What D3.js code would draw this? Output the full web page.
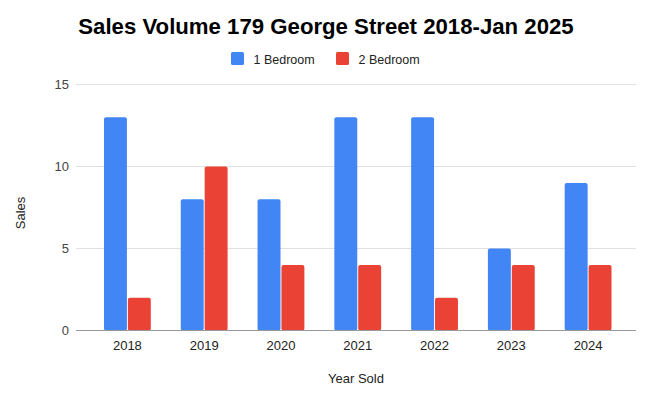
<!DOCTYPE html>
<html>
<head>
<meta charset="utf-8">
<script src="https://cdn.jsdelivr.net/npm/d3@7"></script>
<style>
  body { margin: 0; background: #fff; }
  svg { display: block; font-family: Arial, "Liberation Sans", sans-serif; }
</style>
</head>
<body>
<svg id="chart"></svg>
<script>
const years = ['2018', '2019', '2020', '2021', '2022', '2023', '2024'];
const oneBedroom = [13, 8, 8, 13, 13, 5, 9];
const twoBedroom = [2, 10, 4, 4, 2, 4, 4];
const seriesNames = ['1 Bedroom', '2 Bedroom'];
const seriesColors = ['#4285F4', '#EA4335'];
const yTicks = [0, 5, 10, 15];

const width = 648;
const height = 398;

const svg = d3.select('#chart')
  .attr('width', width)
  .attr('height', height)
  .attr('viewBox', `0 0 ${width} ${height}`);

// Plot area
const plotLeft = 76;
const plotRight = 636;

const xScale = d3.scaleBand()
  .domain(years)
  .range([89, 626.5])
  .paddingInner(0.39)
  .paddingOuter(0.195);

const subScale = d3.scaleBand()
  .domain(seriesNames)
  .range([0, xScale.bandwidth()])
  .paddingInner(0.04);

const yScale = d3.scaleLinear()
  .domain([0, 15])
  .range([330.5, 84.5]);

// Gridlines
svg.append('g')
  .selectAll('line')
  .data(yTicks.filter((t) => t !== 0))
  .join('line')
  .attr('x1', plotLeft)
  .attr('x2', plotRight)
  .attr('y1', (d) => yScale(d))
  .attr('y2', (d) => yScale(d))
  .attr('stroke', '#e0e0e0')
  .attr('stroke-width', 1);

// Y tick labels
svg.append('g')
  .selectAll('text')
  .data(yTicks)
  .join('text')
  .attr('x', 69)
  .attr('y', (d) => yScale(d) + 4.5)
  .attr('text-anchor', 'end')
  .attr('font-size', 13)
  .attr('fill', '#444')
  .text((d) => d);

// Bars
const rows = years.map((y, i) => ({ year: y, values: [oneBedroom[i], twoBedroom[i]] }));

const groups = svg.append('g')
  .selectAll('g')
  .data(rows)
  .join('g')
  .attr('transform', (d) => `translate(${xScale(d.year)},0)`);

groups.selectAll('rect')
  .data((d) => d.values.map((v, k) => ({ name: seriesNames[k], value: v, color: seriesColors[k] })))
  .join('rect')
  .attr('x', (d) => subScale(d.name))
  .attr('y', (d) => yScale(d.value))
  .attr('width', subScale.bandwidth())
  .attr('height', (d) => yScale(0) - yScale(d.value))
  .attr('rx', 2)
  .attr('fill', (d) => d.color);

// Baseline
svg.append('line')
  .attr('x1', plotLeft)
  .attr('x2', plotRight)
  .attr('y1', yScale(0))
  .attr('y2', yScale(0))
  .attr('stroke', '#999')
  .attr('stroke-width', 1.2);

// X axis labels
svg.append('g')
  .selectAll('text')
  .data(years)
  .join('text')
  .attr('x', (d) => xScale(d) + xScale.bandwidth() / 2)
  .attr('y', 350)
  .attr('text-anchor', 'middle')
  .attr('font-size', 13)
  .attr('fill', '#222')
  .text((d) => d);

// Axis titles
svg.append('text')
  .attr('x', 356)
  .attr('y', 383)
  .attr('text-anchor', 'middle')
  .attr('font-size', 13)
  .attr('fill', '#222')
  .text('Year Sold');

svg.append('text')
  .attr('transform', 'translate(25,213) rotate(-90)')
  .attr('text-anchor', 'middle')
  .attr('font-size', 13)
  .attr('fill', '#222')
  .text('Sales');

// Title
svg.append('text')
  .attr('x', 326)
  .attr('y', 34)
  .attr('text-anchor', 'middle')
  .attr('font-size', 22.2)
  .attr('font-weight', 'bold')
  .attr('fill', '#000')
  .text('Sales Volume 179 George Street 2018-Jan 2025');

// Legend
const legendX = [231, 336];
const legend = svg.append('g')
  .selectAll('g')
  .data(seriesNames)
  .join('g')
  .attr('transform', (d, i) => `translate(${legendX[i]},52)`);

legend.append('rect')
  .attr('width', 13)
  .attr('height', 13)
  .attr('rx', 1.5)
  .attr('fill', (d, i) => seriesColors[i]);

legend.append('text')
  .attr('x', 22.5)
  .attr('y', 11.5)
  .attr('font-size', 12.5)
  .attr('fill', '#222')
  .text((d) => d);
</script>
</body>
</html>
